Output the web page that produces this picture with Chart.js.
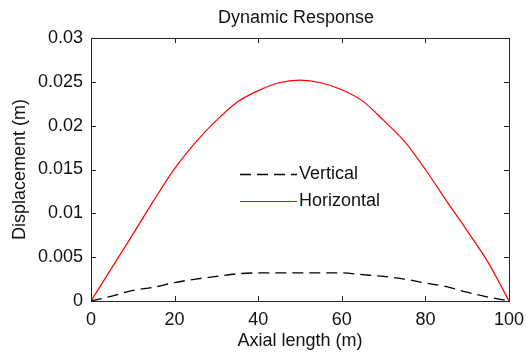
<!DOCTYPE html>
<html>
<head>
<meta charset="utf-8">
<script src="https://cdn.jsdelivr.net/npm/chart.js@4"></script>
<style>
  html, body { margin: 0; padding: 0; background: #fff; }
  #wrap { width: 526px; height: 356px; }
</style>
</head>
<body>
<div id="wrap"><canvas id="chart" width="526" height="356"></canvas></div>
<script>
const chartTitle = 'Dynamic Response';
const axialLength = [0, 5, 10, 15, 20, 25, 30, 35, 40, 45, 50, 55, 60, 65, 70, 75, 80, 85, 90, 95, 100];
const verticalDisp = [0, 0.00056, 0.0012, 0.00157, 0.0021, 0.0025, 0.0028, 0.0031, 0.0032, 0.0032, 0.0032,
  0.0032, 0.0032, 0.003, 0.0028, 0.0025, 0.00205, 0.00164, 0.001, 0.00045, 0];
const horizontalDisp = [0, 0.0038, 0.0076, 0.01145, 0.0151, 0.0181, 0.0206, 0.0227, 0.024, 0.0249, 0.0252,
  0.0249, 0.0241, 0.0228, 0.0206, 0.0182, 0.015, 0.01145, 0.008, 0.0044, 0];
const xTicks = [0, 20, 40, 60, 80, 100];
const yTicks = [0, 0.005, 0.01, 0.015, 0.02, 0.025, 0.03];

const FONT = 'Liberation Sans, Arial, sans-serif';

function toPoints(ys) {
  return axialLength.map((x, i) => ({ x: x, y: ys[i] }));
}

// box, inward ticks on all four sides, title and legend (matlab style)
const matlabFrame = {
  id: 'matlabFrame',
  afterDatasetsDraw(chart) {
    const ctx = chart.ctx;
    const a = chart.chartArea;
    const xs = chart.scales.x;
    const ys = chart.scales.y;
    const len = 5;
    ctx.save();
    ctx.strokeStyle = '#222';
    ctx.lineWidth = 1;
    ctx.beginPath();
    xTicks.forEach((v) => {
      const px = Math.round(xs.getPixelForValue(v)) + 0.5;
      ctx.moveTo(px, a.bottom); ctx.lineTo(px, a.bottom - len);
      ctx.moveTo(px, a.top); ctx.lineTo(px, a.top + len);
    });
    yTicks.forEach((v) => {
      const py = Math.round(ys.getPixelForValue(v)) + 0.5;
      ctx.moveTo(a.left, py); ctx.lineTo(a.left + len, py);
      ctx.moveTo(a.right, py); ctx.lineTo(a.right - len, py);
    });
    ctx.stroke();
    ctx.strokeRect(Math.round(a.left) + 0.5, Math.round(a.top) + 0.5,
      Math.round(a.right - a.left), Math.round(a.bottom - a.top));

    ctx.fillStyle = '#111';
    ctx.font = '18px ' + FONT;
    ctx.textAlign = 'center';
    ctx.textBaseline = 'middle';
    ctx.fillText(chartTitle, 296, 18);

    // legend
    const rows = [174, 201];
    chart.data.datasets.forEach((ds, i) => {
      ctx.beginPath();
      ctx.strokeStyle = ds.borderColor;
      ctx.lineWidth = ds.borderWidth;
      ctx.setLineDash(ds.borderDash || []);
      ctx.moveTo(240, rows[i] + 0.5);
      ctx.lineTo(297, rows[i] + 0.5);
      ctx.stroke();
      ctx.setLineDash([]);
      ctx.textAlign = 'left';
      ctx.fillText(ds.label, 299, rows[i]);
    });
    ctx.restore();
  }
};

new Chart(document.getElementById('chart'), {
  type: 'line',
  data: {
    datasets: [
      {
        label: 'Vertical',
        data: toPoints(verticalDisp),
        borderColor: '#000000',
        borderWidth: 1.3,
        borderDash: [11, 6],
        pointRadius: 0,
        cubicInterpolationMode: 'monotone',
      },
      {
        label: 'Horizontal',
        data: toPoints(horizontalDisp),
        borderColor: '#ff0000',
        borderWidth: 1.2,
        pointRadius: 0,
        cubicInterpolationMode: 'monotone',
      },
    ],
  },
  options: {
    responsive: false,
    animation: false,
    layout: { padding: { left: 0, top: 38, right: 17, bottom: 0 } },
    plugins: {
      legend: { display: false },
      title: { display: false },
      tooltip: { enabled: false },
    },
    scales: {
      x: {
        type: 'linear',
        min: 0,
        max: 100,
        afterBuildTicks: (scale) => { scale.ticks = xTicks.map((v) => ({ value: v })); },
        afterFit: (scale) => {
          scale.height = 55;
          scale.paddingLeft = 0;
          scale.paddingRight = 0;
        },
        grid: { display: false, drawTicks: false },
        border: { display: false },
        ticks: { color: '#111', font: { family: FONT, size: 18 }, padding: 8, maxRotation: 0 },
        title: {
          display: true,
          text: 'Axial length (m)',
          color: '#111',
          font: { family: FONT, size: 18 },
          padding: { top: 0, bottom: 4 },
        },
      },
      y: {
        type: 'linear',
        min: 0,
        max: 0.03,
        afterBuildTicks: (scale) => { scale.ticks = yTicks.map((v) => ({ value: v })); },
        afterFit: (scale) => { scale.width = 91; },
        grid: { display: false, drawTicks: false },
        border: { display: false },
        ticks: {
          color: '#111',
          font: { family: FONT, size: 18 },
          padding: 8,
          callback: (v) => String(+v.toFixed(3)),
        },
        title: {
          display: true,
          text: 'Displacement (m)',
          color: '#111',
          font: { family: FONT, size: 18 },
          padding: { top: 9, bottom: 0 },
        },
      },
    },
  },
  plugins: [matlabFrame],
});
</script>
</body>
</html>
